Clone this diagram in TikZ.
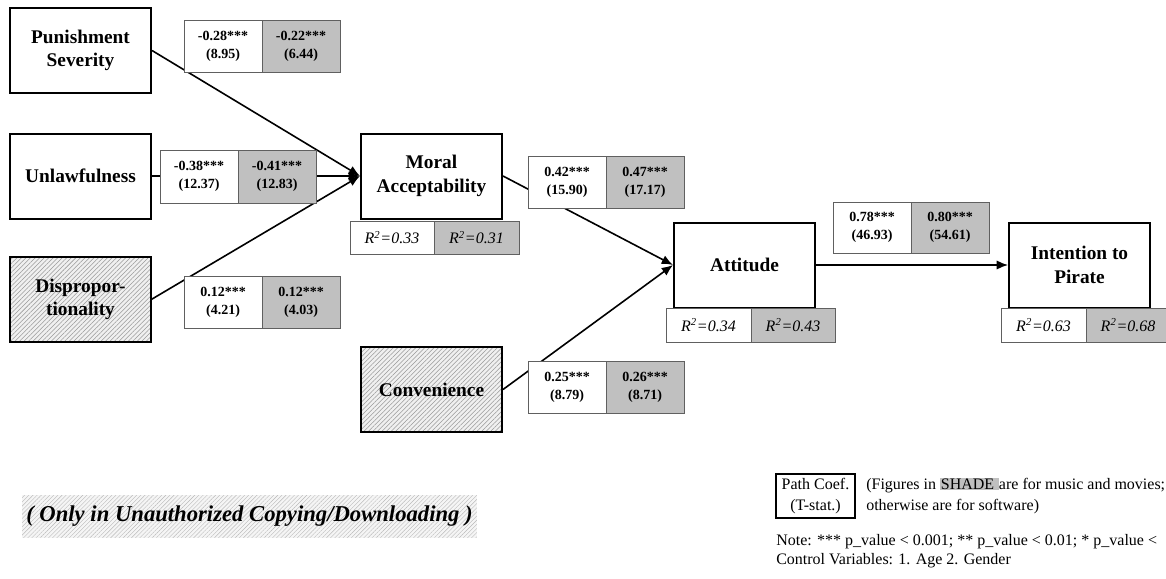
\documentclass[tikz,border=0pt]{standalone}
\usepackage{fontspec}
\setmainfont{Liberation Serif}
\usetikzlibrary{arrows.meta,patterns.meta}
\definecolor{shade}{HTML}{C0C0C0}
\tikzset{
 mainbox/.style={draw=black, line width=1.5pt, minimum width=105.75pt, minimum height=63.75pt,
   align=center, font=\fontsize{14.5}{17.5}\selectfont\bfseries, inner sep=0pt},
 hatched/.style={preaction={fill=gray!12}, pattern={Lines[angle=45,distance=2.4pt,line width=0.4pt]}, pattern color=gray!80},
 lighthatch/.style={preaction={fill=gray!8}, pattern={Lines[angle=45,distance=2.2pt,line width=0.3pt]}, pattern color=gray!55},
 cell/.style={draw=gray!75!black, line width=0.7pt},
 num/.style={align=center, font=\fontsize{10.5}{13.5}\selectfont\bfseries, inner sep=0pt},
 rsq/.style={font=\fontsize{12}{14}\selectfont\itshape, inner sep=0pt},
 pathto/.style={line width=1.2pt, -{Latex[length=8.5pt,width=7pt]}},
 legendtxt/.style={font=\fontsize{12}{15.75}\selectfont, inner sep=0pt, align=left}
}
\newcommand\coefbox[8]{%
 \draw[cell, fill=white] (#2,#5) rectangle (#3,#6);
 \draw[cell, fill=shade] (#3,#5) rectangle (#4,#6);
 \node[num] (#1a) at ({(#2+#3)/2},{(#5+#6)/2}) {#7};
 \node[num] (#1b) at ({(#3+#4)/2},{(#5+#6)/2}) {#8};}
\newcommand\rsqbox[8]{%
 \draw[cell, fill=white] (#2,#5) rectangle (#3,#6);
 \draw[cell, fill=shade] (#3,#5) rectangle (#4,#6);
 \node[rsq] (#1a) at ({(#2+#3)/2},{(#5+#6)/2}) {#7};
 \node[rsq] (#1b) at ({(#3+#4)/2},{(#5+#6)/2}) {#8};}
\begin{document}
\begin{tikzpicture}[x=0.75pt,y=-0.75pt]
\useasboundingbox (0,0) rectangle (1166,578);
\clip (0,0) rectangle (1166,578);

% main constructs
\node[mainbox] (ps) at (80.5,50.5) {Punishment\\Severity};
\node[mainbox] (ul) at (80.5,176) {Unlawfulness};
\node[mainbox, hatched] (dp) at (80.5,299.5) {Dispropor-\\tionality};
\node[mainbox] (ma) at (431.5,176) {Moral\\Acceptability};
\node[mainbox, hatched] (cv) at (431.5,389.5) {Convenience};
\node[mainbox] (at) at (744.5,265) {Attitude};
\node[mainbox] (ip) at (1079.5,265) {Intention to\\Pirate};

% paths
\draw[pathto] (ps.east) -- (ma.west);
\draw[pathto] (ul.east) -- (ma.west);
\draw[pathto] (dp.east) -- (ma.west);
\draw[pathto] (ma.east) -- (at.west);
\draw[pathto] (cv.east) -- (at.west);
\draw[pathto] (at.east) -- (ip.west);

% coefficient boxes
\coefbox{c1}{184}{262}{340}{20}{72}{-0.28***\\(8.95)}{-0.22***\\(6.44)}
\coefbox{c2}{160}{238}{316}{150}{203}{-0.38***\\(12.37)}{-0.41***\\(12.83)}
\coefbox{c3}{184}{262}{340}{276}{328}{0.12***\\(4.21)}{0.12***\\(4.03)}
\coefbox{c4}{528}{606}{684}{156}{208}{0.42***\\(15.90)}{0.47***\\(17.17)}
\coefbox{c5}{528}{606}{684}{361}{413}{0.25***\\(8.79)}{0.26***\\(8.71)}
\coefbox{c6}{833}{911}{989}{202}{253}{0.78***\\(46.93)}{0.80***\\(54.61)}

% R squared boxes
\rsqbox{r1}{350}{434}{519}{221}{254}{R\textsuperscript{2}=0.33}{R\textsuperscript{2}=0.31}
\rsqbox{r2}{666}{751}{835}{308}{342}{R\textsuperscript{2}=0.34}{R\textsuperscript{2}=0.43}
\rsqbox{r3}{1001}{1086}{1170}{308}{342}{R\textsuperscript{2}=0.63}{R\textsuperscript{2}=0.68}

% bottom-left note
\node[lighthatch, minimum width=341pt, minimum height=32pt, inner sep=0pt,
  font=\fontsize{17}{20}\selectfont\bfseries\itshape] (only) at (249.5,516.5)
  {( Only in Unauthorized Copying/Downloading )};

% legend
\node[draw=black, line width=1pt, minimum width=59.25pt, minimum height=33pt, inner sep=0pt,
  align=center, font=\fontsize{12}{15.75}\selectfont] (leg) at (815.5,496) {Path Coef.\\(T-stat.)};
\node[legendtxt, anchor=west] (legtxt) at (866,496)
  {(Figures in {\setlength\fboxsep{0.6pt}\colorbox{shade}{SHADE\ }}are for music and movies;\\otherwise are for software)};
\node[legendtxt, anchor=north west, font=\fontsize{12}{14.25}\selectfont] (note) at (776,534)
  {Note: *** p\_value < 0.001; ** p\_value < 0.01; * p\_value <\\Control Variables: 1. Age 2. Gender};
\end{tikzpicture}
\end{document}
